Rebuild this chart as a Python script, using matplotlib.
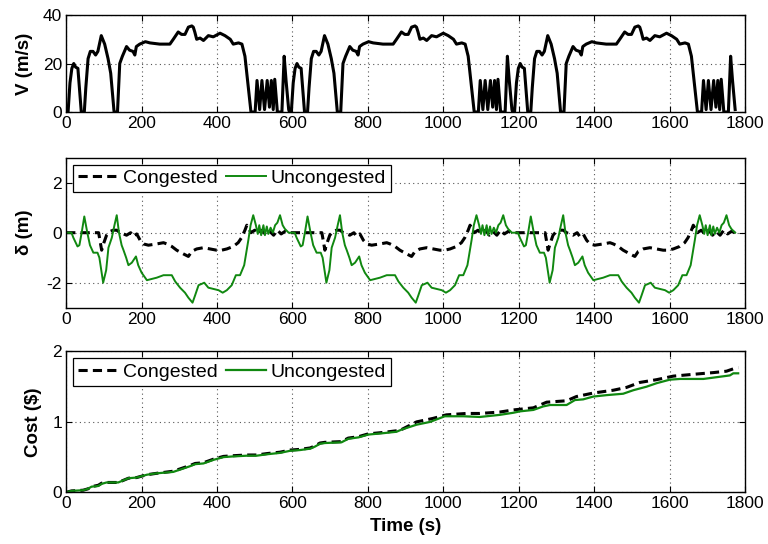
import numpy as np
import matplotlib
matplotlib.use("Agg")
import matplotlib.pyplot as plt

plt.rcParams['font.family'] = ['Liberation Sans', 'DejaVu Sans']
plt.rcParams['font.size'] = 12.5
plt.rcParams['axes.unicode_minus'] = False

# ---- drive cycle (one lap of the route, repeated three times) ----
lap_length = 592  # seconds per lap
laps = 3

lap_time = [0, 5, 10, 15, 20, 25, 31, 36, 40, 48, 52, 58, 64, 71, 78, 84, 93, 102, 111,
            118, 124, 127, 136, 142, 149, 160, 168, 177, 182, 186, 195, 210, 222, 248,
            275, 284, 297, 306, 315, 324, 333, 337, 341, 346, 355, 364, 377, 390, 408,
            421, 435, 443, 457, 466, 474, 483, 490, 501, 506, 513, 519, 526, 533, 539,
            544, 549, 553, 560, 572, 578, 583, 590]
lap_speed = [0, 0, 12, 18, 20, 18.5, 18, 8, 0, 0, 10, 22, 25, 25, 23.5, 25, 31.5, 28, 22,
             16, 5, 0, 0, 20, 23, 27, 25.5, 25, 23.5, 27, 28, 29, 28.5, 28,
             28, 30, 33, 32, 32, 35, 35.5, 35, 33, 30, 30.5, 29.5, 31.5, 31, 32.5,
             31.5, 30, 28, 28.5, 28, 23, 10, 0, 0, 13, 1, 13, 1, 13, 2,
             13, 1, 13.5, 0, 0, 23, 13, 1]

# ---- spacing deviation over one lap ----
dev_time_u = [0, 14, 19, 30, 35, 41, 48, 56, 63, 72, 83, 88, 94, 98, 106, 112, 121, 128,
              134, 140, 147, 152, 159, 165, 174, 185, 191, 200, 214, 227, 240, 258, 280,
              289, 302, 315, 324, 335, 342, 351, 359, 366, 377, 390, 404, 415, 426, 439,
              450, 461, 472, 483, 489, 496, 503, 508, 512, 517, 523, 527, 532, 536, 542,
              548, 554, 560, 567, 574, 580, 590]
dev_uncongested = [0, 0, -0.2, -0.55, -0.5, 0, 0.65, 0, -0.5, -0.8, -0.8, -1.0, -1.6, -2.0,
                   -1.5, -0.6, -0.2, 0.3, 0.7, 0, -0.5, -0.7, -1.0, -1.3, -1.2, -0.95,
                   -1.3, -1.6, -1.9, -1.85, -1.8, -1.7, -1.7, -1.95, -2.2, -2.4, -2.6,
                   -2.8, -2.5, -2.1, -2.05, -2.0, -2.2, -2.25, -2.3, -2.4, -2.3, -2.1,
                   -1.7, -1.7, -1.3, -0.3, 0.3, 0.7, 0.3, -0.05, 0.3, -0.1, 0.3, -0.1,
                   0.25, -0.05, 0.2, 0.0, 0.3, 0.4, 0.7, 0.3, 0.15, 0.0]

dev_time_c = [0, 86, 94, 100, 107, 116, 125, 134, 143, 152, 160, 171, 178, 187, 196, 205,
              218, 240, 258, 267, 280, 293, 311, 324, 333, 346, 364, 381, 399, 412, 426,
              443, 456, 465, 474, 479, 490, 500, 510, 520, 530, 540, 550, 560, 570, 580, 590]
dev_congested = [0, 0, -0.7, -0.4, -0.1, 0.05, 0.1, 0.1, 0, -0.05, -0.1, 0, -0.15, -0.05,
                 -0.3, -0.45, -0.5, -0.45, -0.4, -0.45, -0.55, -0.7, -0.85, -0.95, -0.75,
                 -0.65, -0.6, -0.65, -0.7, -0.7, -0.65, -0.55, -0.4, -0.2, 0.1, 0.3, 0.0,
                 0.1, -0.05, 0.1, -0.1, 0.05, -0.1, 0.1, -0.05, 0.05, 0.0]

# ---- cumulative cost ----
cost_time_u = [0, 14, 45, 58, 67, 85, 94, 107, 138, 165, 187, 214, 240, 284, 306, 328, 342,
               364, 390, 417, 443, 479, 505, 532, 567, 594, 620, 647, 660, 673, 686, 730,
               748, 775, 801, 841, 876, 889, 929, 965, 1004, 1053, 1097, 1150, 1186,
               1204, 1239, 1265, 1283, 1327, 1349, 1371, 1398, 1433, 1477, 1504, 1539,
               1566, 1601, 1628, 1690, 1760, 1769, 1782]
cost_uncongested = [0, 0.02, 0.03, 0.05, 0.08, 0.09, 0.12, 0.14, 0.14, 0.2, 0.21, 0.25,
                    0.27, 0.29, 0.33, 0.37, 0.4, 0.41, 0.46, 0.5, 0.51, 0.52, 0.52, 0.54,
                    0.56, 0.59, 0.6, 0.62, 0.65, 0.69, 0.7, 0.71, 0.76, 0.78, 0.82, 0.84,
                    0.86, 0.89, 0.96, 1.0, 1.08, 1.08, 1.07, 1.1, 1.13, 1.15, 1.17, 1.22,
                    1.24, 1.24, 1.31, 1.32, 1.36, 1.38, 1.4, 1.45, 1.5, 1.55, 1.6, 1.61,
                    1.61, 1.66, 1.69, 1.69]

cost_time_c = [0, 14, 45, 58, 67, 85, 94, 107, 138, 165, 187, 214, 240, 284, 306, 328, 342,
               364, 390, 417, 443, 479, 505, 532, 567, 594, 620, 647, 660, 673, 686, 730,
               748, 775, 801, 840, 885, 929, 973, 1008, 1061, 1097, 1150, 1186, 1239,
               1274, 1327, 1353, 1398, 1451, 1486, 1521, 1566, 1610, 1672, 1716, 1751,
               1778, 1782]
cost_congested = [0, 0.02, 0.03, 0.05, 0.08, 0.1, 0.13, 0.14, 0.14, 0.2, 0.21, 0.25, 0.27,
                  0.3, 0.34, 0.38, 0.41, 0.42, 0.47, 0.51, 0.52, 0.53, 0.53, 0.55, 0.57,
                  0.6, 0.61, 0.63, 0.66, 0.7, 0.71, 0.72, 0.77, 0.79, 0.83, 0.85, 0.88,
                  1.0, 1.05, 1.1, 1.12, 1.12, 1.14, 1.17, 1.2, 1.28, 1.3, 1.36, 1.41,
                  1.45, 1.49, 1.56, 1.6, 1.65, 1.68, 1.7, 1.72, 1.77, 1.77]

x_ticks = [0, 200, 400, 600, 800, 1000, 1200, 1400, 1600, 1800]


def repeat_laps(t, y):
    t = np.asarray(t, float)
    y = np.asarray(y, float)
    tt = np.concatenate([t + k * lap_length for k in range(laps)])
    yy = np.concatenate([y] * laps)
    return tt, yy


green = '#108810'
dash = (0, (3, 1.7))
label_size = 13.5

fig = plt.figure(figsize=(7.68, 5.44), dpi=100)
ax1 = fig.add_axes([0.0862, 0.7941, 0.8838, 0.1783])
ax2 = fig.add_axes([0.0862, 0.4344, 0.8838, 0.2757])
ax3 = fig.add_axes([0.0862, 0.0950, 0.8838, 0.2589])


def style(ax):
    ax.set_xlim(0, 1800)
    ax.set_xticks(x_ticks)
    ax.grid(True, color='#555555', linestyle=(0, (1, 3)), linewidth=0.8)
    ax.tick_params(direction='in', top=True, right=True, length=4, width=0.8,
                   labelsize=12.5, pad=3)
    for s in ax.spines.values():
        s.set_linewidth(1.0)


def add_legend(ax):
    leg = ax.legend(loc='upper left', ncol=2, fancybox=False, edgecolor='black',
                    framealpha=1, handlelength=2.05, handletextpad=0.25,
                    columnspacing=0.45, borderpad=0.25, borderaxespad=0.35,
                    fontsize=14)
    leg.get_frame().set_linewidth(0.9)


# speed
t, v = repeat_laps(lap_time, lap_speed)
ax1.plot(t, v, color='black', linewidth=2.2)
style(ax1)
ax1.set_ylim(0, 40)
ax1.set_yticks([0, 20, 40])
ax1.set_ylabel('V (m/s)', fontweight='bold', fontsize=label_size)
ax1.yaxis.set_label_coords(-0.049, 0.5)

# spacing deviation
tc, dc = repeat_laps(dev_time_c, dev_congested)
tu, du = repeat_laps(dev_time_u, dev_uncongested)
ax2.plot(tc, dc, color='black', linewidth=2.2, linestyle=dash, label='Congested')
ax2.plot(tu, du, color=green, linewidth=1.4, label='Uncongested')
style(ax2)
ax2.set_ylim(-3, 3)
ax2.set_yticks([-2, 0, 2])
ax2.set_ylabel('δ (m)', fontweight='bold', fontsize=label_size)
ax2.yaxis.set_label_coords(-0.049, 0.5)
add_legend(ax2)

# cost
ax3.plot(cost_time_c, cost_congested, color='black', linewidth=2.2,
         linestyle=dash, label='Congested')
ax3.plot(cost_time_u, cost_uncongested, color=green, linewidth=1.6, label='Uncongested')
style(ax3)
ax3.set_ylim(0, 2)
ax3.set_yticks([0, 1, 2])
ax3.set_ylabel('Cost ($)', fontweight='bold', fontsize=label_size)
ax3.yaxis.set_label_coords(-0.036, 0.5)
ax3.set_xlabel('Time (s)', fontweight='bold', fontsize=label_size, labelpad=5)
add_legend(ax3)

fig.savefig('out.png', dpi=100)
